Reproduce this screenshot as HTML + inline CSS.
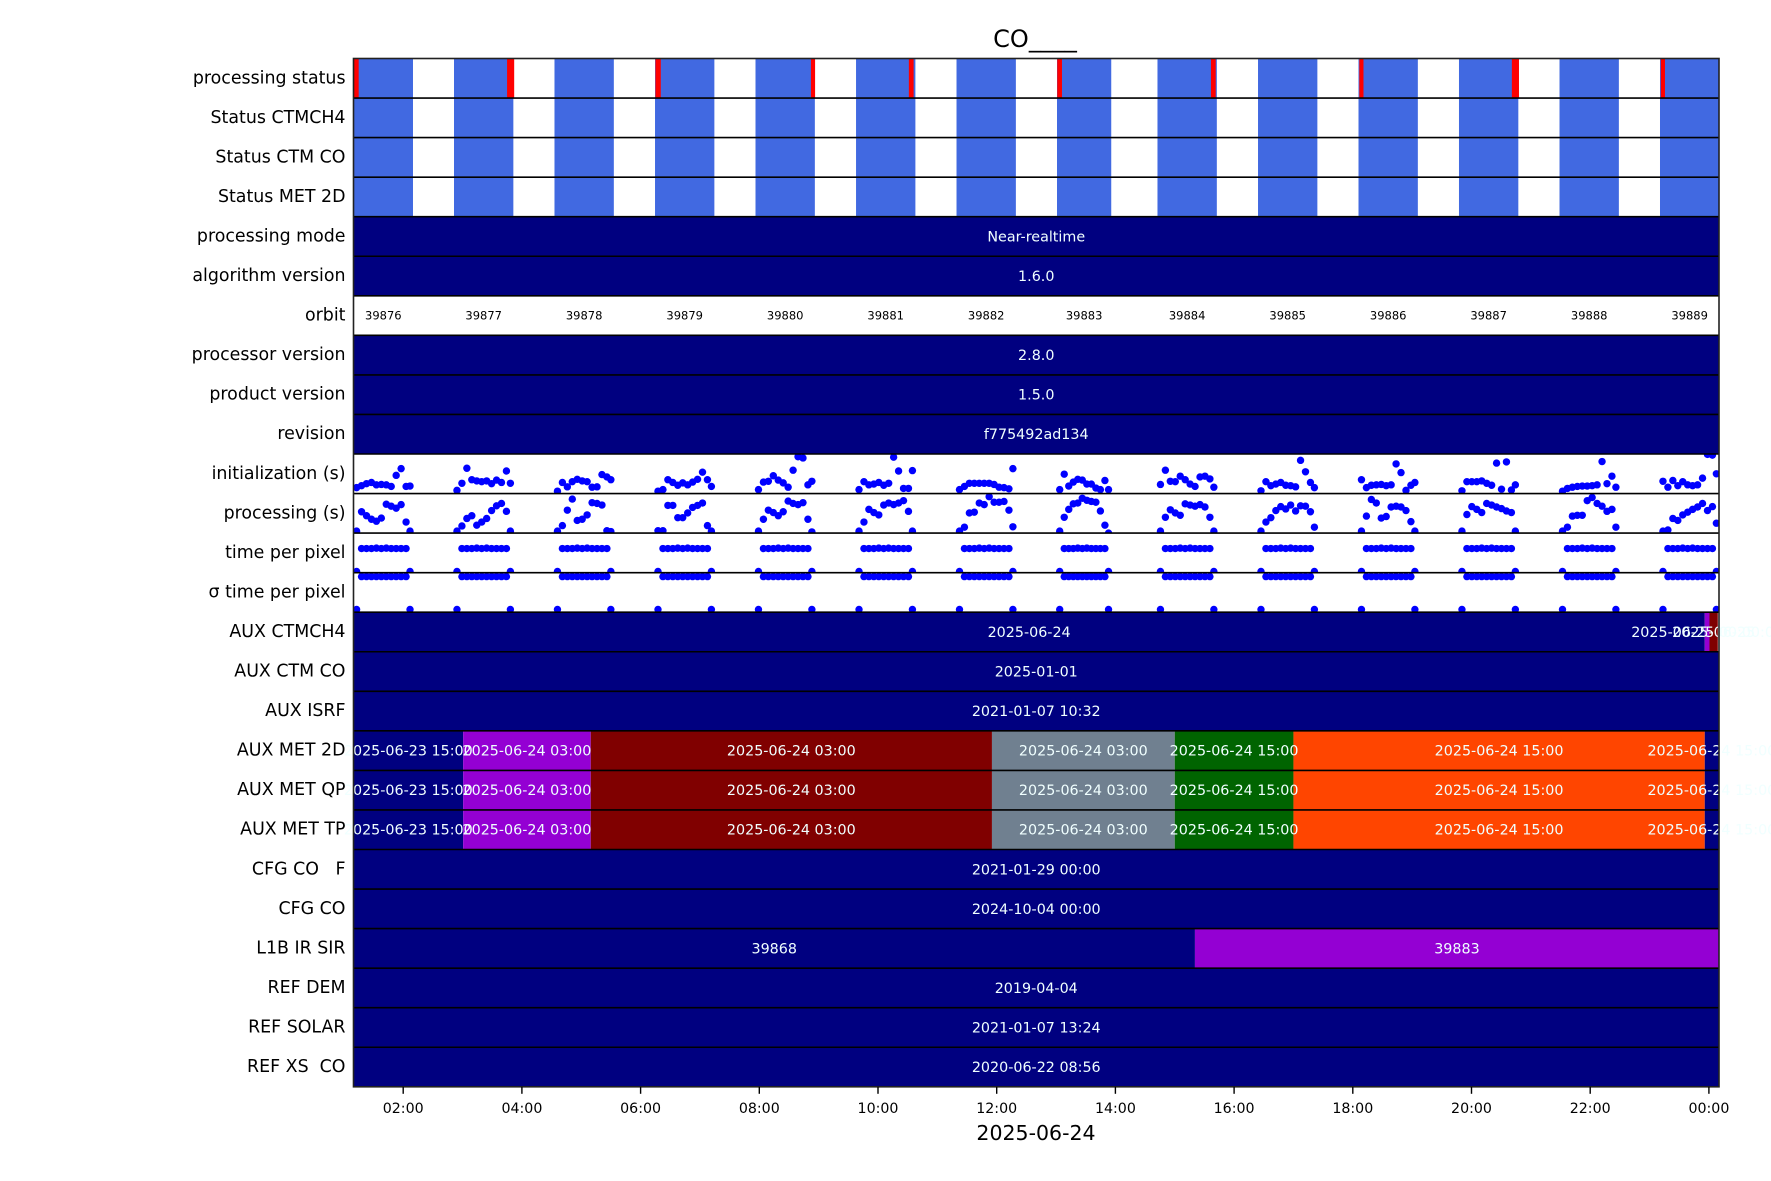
<!DOCTYPE html>
<html><head><meta charset="utf-8"><title>CO____</title>
<style>html,body{margin:0;padding:0;background:#fff;}svg{display:block;font-family:"DejaVu Sans","Liberation Sans",sans-serif;}text{white-space:pre;}</style>
</head><body>
<svg id="chart" width="1771" height="1181" viewBox="0 0 1771 1181" xmlns="http://www.w3.org/2000/svg">
<text x="1035" y="47" font-size="24" text-anchor="middle" fill="#000">CO____</text>
<text x="1036" y="1140" font-size="20.5" text-anchor="middle" fill="#000">2025-06-24</text>
<g id="layer"></g>
</svg>
<script>
// ---- data ----
const rowLabels = ["processing status","Status CTMCH4","Status CTM CO","Status MET 2D","processing mode","algorithm version","orbit","processor version","product version","revision","initialization (s)","processing (s)","time per pixel","\u03c3 time per pixel","AUX CTMCH4","AUX CTM CO","AUX ISRF","AUX MET 2D","AUX MET QP","AUX MET TP","CFG CO   F","CFG CO","L1B IR SIR","REF DEM","REF SOLAR","REF XS  CO"];
const orbitNumbers = [39876,39877,39878,39879,39880,39881,39882,39883,39884,39885,39886,39887,39888,39889];
const orbitStart = [1.165,2.856,4.549,6.243,7.936,9.630,11.323,13.016,14.709,16.403,18.096,19.789,21.483,23.176];
const orbitEnd = [2.165,3.856,5.549,7.243,8.936,10.630,12.323,13.930,15.709,17.403,19.096,20.789,22.483,24.176];
const failStart = [1.17,3.75,6.25,8.87,10.52,13.02,15.61,18.11,20.68,23.19];
const failEnd = [1.25,3.87,6.34,8.94,10.60,13.10,15.69,18.18,20.80,23.26];
const xTickHours = [2,4,6,8,10,12,14,16,18,20,22,24];
const xTickLabels = ["02:00","04:00","06:00","08:00","10:00","12:00","14:00","16:00","18:00","20:00","22:00","00:00"];
const granuleOffsetMin = [3,8,13,18,23,28,33,38,43,48,53,57];
const initVals = [
[1.5,2.0,2.5,2.8,2.2,2.3,2.2,1.8,4.6,6.3,1.8,1.9],
[0.8,2.6,6.4,3.5,3.2,3.0,3.2,2.5,3.4,2.8,5.7,2.6],
[0.6,2.8,1.7,3.0,3.6,3.2,3.0,1.6,1.7,4.8,4.2,3.5],
[0.6,1.0,3.5,2.8,2.1,2.7,2.2,2.9,3.6,5.4,3.5,1.8],
[1.0,2.9,3.1,4.5,3.4,2.7,1.6,5.9,9.3,9.0,2.2,3.1],
[1.0,3.0,2.2,2.4,2.8,2.1,2.6,9.2,5.7,1.3,1.3,5.8],
[1.0,1.8,2.6,2.6,2.6,2.6,2.6,2.3,1.6,1.5,1.2,6.3],
[1.0,4.9,1.9,2.9,3.6,3.4,2.4,2.4,1.4,1.0,3.3,1.0],
[2.3,5.9,3.1,3.0,4.4,3.5,2.4,1.8,4.2,4.4,3.7,1.6],
[0.7,3.0,2.0,2.4,2.8,2.1,2.0,1.7,8.4,5.5,2.8,1.5],
[3.5,1.5,2.1,2.2,2.3,2.0,2.2,7.5,5.3,0.8,2.1,2.8],
[0.7,3.0,3.0,3.0,3.2,2.6,2.1,7.7,1.1,8.0,0.9,2.2],
[0.6,1.3,1.6,1.8,1.9,1.9,2.0,2.2,8.1,2.5,4.4,1.6],
[3.1,1.6,3.3,2.0,3.0,2.2,2.0,2.2,3.9,9.9,9.7,5.0]];
const procVals = [
[0.5,5.4,4.4,3.5,3.0,3.8,7.3,6.8,6.3,7.2,2.8,0.5],
[0.5,1.8,3.7,4.4,2.0,2.8,3.7,5.7,6.9,7.5,5.5,0.5],
[0.5,1.9,5.8,8.6,3.2,3.5,4.6,7.7,7.5,7.1,0.6,0.4],
[0.6,0.6,7.0,7.0,3.9,3.9,5.1,6.5,7.0,7.6,1.9,0.5],
[0.5,3.5,5.8,5.2,4.4,5.4,8.1,7.5,7.2,7.7,3.5,0.3],
[0.5,2.8,6.0,5.2,4.6,7.1,7.6,7.2,7.6,8.2,5.5,0.5],
[0.5,1.5,5.1,5.3,7.6,7.2,9.2,7.8,7.8,8.0,5.8,1.6],
[0.5,4.0,6.0,7.4,7.6,8.8,8.3,8.0,7.8,5.6,2.0,0.0],
[0.5,4.0,5.9,5.1,4.5,7.4,7.1,6.8,7.2,6.6,4.0,0.5],
[0.5,2.8,3.9,5.7,6.7,6.1,7.1,5.6,6.9,6.8,5.4,1.5],
[0.5,4.3,8.5,7.6,3.8,4.2,6.6,6.8,6.6,5.7,2.9,0.5],
[0.5,4.7,6.7,6.0,5.2,7.5,7.1,6.6,6.2,5.6,5.2,0.5],
[0.5,1.5,4.3,4.5,4.5,8.2,9.0,7.5,6.8,5.5,6.0,1.5],
[0.5,0.8,3.7,3.2,4.6,5.3,6.0,6.6,7.5,5.7,6.7,2.5]];
const tppVals = [0.3,6.1,6.1,6.1,6.2,6.1,6.2,6.1,6.1,6.1,6.1,0.3];
const sigmaVals = [0.7,9.0,9.0,9.0,9.0,9.0,9.0,9.0,9.0,9.0,9.0,0.7];
const segRows = [4,5,7,8,9,14,14,14,15,16,17,17,17,17,17,17,17,18,18,18,18,18,18,18,19,19,19,19,19,19,19,20,21,22,22,23,24,25];
const segStart = [1.16,1.16,1.16,1.16,1.16,1.16,23.93,24.01,1.16,1.16,1.16,3.01,5.16,11.92,15.00,17.00,23.93,1.16,3.01,5.16,11.92,15.00,17.00,23.93,1.16,3.01,5.16,11.92,15.00,17.00,23.93,1.16,1.16,1.16,15.34,1.16,1.16,1.16];
const segEnd = [24.17,24.17,24.17,24.17,24.17,23.93,24.01,24.15,24.17,24.17,3.01,5.16,11.92,15.00,17.00,23.93,24.17,3.01,5.16,11.92,15.00,17.00,23.93,24.17,3.01,5.16,11.92,15.00,17.00,23.93,24.17,24.17,24.17,15.34,24.17,24.17,24.17,24.17];
const segColors = ["#000080","#000080","#000080","#000080","#000080","#000080","#9400d3","#800000","#000080","#000080","#000080","#9400d3","#800000","#708090","#006400","#ff4500","#000080","#000080","#9400d3","#800000","#708090","#006400","#ff4500","#000080","#000080","#9400d3","#800000","#708090","#006400","#ff4500","#000080","#000080","#000080","#000080","#9400d3","#000080","#000080","#000080"];
const segLabels = ["Near-realtime","1.6.0","2.8.0","1.5.0","f775492ad134","2025-06-24","2025-06-25 00:00:00","2025-06-25","2025-01-01","2021-01-07 10:32","2025-06-23 15:00","2025-06-24 03:00","2025-06-24 03:00","2025-06-24 03:00","2025-06-24 15:00","2025-06-24 15:00","2025-06-24 15:00","2025-06-23 15:00","2025-06-24 03:00","2025-06-24 03:00","2025-06-24 03:00","2025-06-24 15:00","2025-06-24 15:00","2025-06-24 15:00","2025-06-23 15:00","2025-06-24 03:00","2025-06-24 03:00","2025-06-24 03:00","2025-06-24 15:00","2025-06-24 15:00","2025-06-24 15:00","2021-01-29 00:00","2024-10-04 00:00","39868","39883","2019-04-04","2021-01-07 13:24","2020-06-22 08:56"];

// ---- axes ----
const X0 = 353.5, X1 = 1719, TOP = 58.5, RH = 39.55;
const xs = t => 403.2 + 59.35*(t-2);
const rowY = i => TOP + i*RH;
const vy = (i,v) => rowY(i) + RH - v/10*RH;
const NS = "http://www.w3.org/2000/svg";
const layer = document.getElementById('layer');
function mk(tag, attrs, parent){ const e=document.createElementNS(NS,tag); for(const k in attrs) e.setAttribute(k,attrs[k]); (parent||layer).appendChild(e); return e; }
const clampX = v => Math.max(X0, Math.min(X1, v));

const defs = mk('defs',{});
for (const r of [10,11,12,13]) {
  const cp = mk('clipPath',{id:'clip'+r},defs);
  mk('rect',{x:X0,y:rowY(r),width:X1-X0,height:RH},cp);
}
for (let r=0;r<4;r++){
  for (let k=0;k<orbitStart.length;k++){
    const a=clampX(xs(orbitStart[k])), b=clampX(xs(orbitEnd[k]));
    const e=mk('rect',{x:a,y:rowY(r),width:b-a,height:RH,fill:'#4169e1'});
    
    
  }
}
for (let k=0;k<failStart.length;k++){
  const a=clampX(xs(failStart[k])), b=clampX(xs(failEnd[k]));
  const e=mk('rect',{x:a,y:rowY(0),width:b-a,height:RH,fill:'#ff0000'});
  
  
}
for (let k=0;k<orbitNumbers.length;k++){
  const c=(xs(orbitStart[k])+xs(orbitEnd[k]))/2;
  const e=mk('text',{x:c,y:rowY(6)+RH/2+4,'font-size':11.5,'text-anchor':'middle',fill:'#000'});
  e.textContent=orbitNumbers[k];
  
  
}
for (let s=0;s<segRows.length;s++){
  const a=clampX(xs(segStart[s])), b=clampX(xs(segEnd[s]));
  const e=mk('rect',{x:a,y:rowY(segRows[s]),width:Math.max(0,b-a),height:RH,fill:segColors[s]});
  
  
}
function scatter(row, valsFor){
  const g=mk('g',{'clip-path':'url(#clip'+row+')'});
  for (let k=0;k<orbitStart.length;k++){
    const dur=orbitEnd[k]-orbitStart[k];
    const vals=valsFor(k);
    for (let j=0;j<vals.length;j++){
      const t=orbitStart[k]+granuleOffsetMin[j]/60*dur;
      const e=mk('circle',{cx:xs(t),cy:vy(row,vals[j]),r:3.7,fill:'#0000ff'},g);
      
      
    }
  }
}
scatter(10,k=>initVals[k]);
scatter(11,k=>procVals[k]);
scatter(12,k=>tppVals);
scatter(13,k=>sigmaVals);
for (let r=1;r<rowLabels.length;r++){
  const e=mk('line',{x1:X0,x2:X1,y1:rowY(r),y2:rowY(r),stroke:'#000','stroke-width':1.6});
  
  
}
for (let s=0;s<segRows.length;s++){
  const c=(clampX(xs(segStart[s]))+clampX(xs(segEnd[s])))/2;
  const e=mk('text',{x:c,y:rowY(segRows[s])+RH/2+5,'font-size':14.3,'text-anchor':'middle',fill:'#f0ffff'});
  e.textContent=segLabels[s];
  
  
}
const fr=mk('rect',{x:X0,y:TOP,width:X1-X0,height:rowLabels.length*RH,fill:'none',stroke:'#222','stroke-width':1.6});


for (let r=0;r<rowLabels.length;r++){
  const e=mk('text',{x:345.5,y:rowY(r)+RH/2+5,'font-size':17.4,'text-anchor':'end',fill:'#000'});
  e.textContent=rowLabels[r];
  
  
}
const BOT = TOP + rowLabels.length*RH;
for (let i=0;i<xTickHours.length;i++){
  const x=xs(xTickHours[i]);
  const t=mk('line',{x1:x,x2:x,y1:BOT,y2:BOT+7,stroke:'#000','stroke-width':1.4});
  
  
  const l=mk('text',{x:x,y:BOT+26,'font-size':14.2,'text-anchor':'middle',fill:'#000'});
  l.textContent=xTickLabels[i];
  
  
}
</script>
</body></html>
